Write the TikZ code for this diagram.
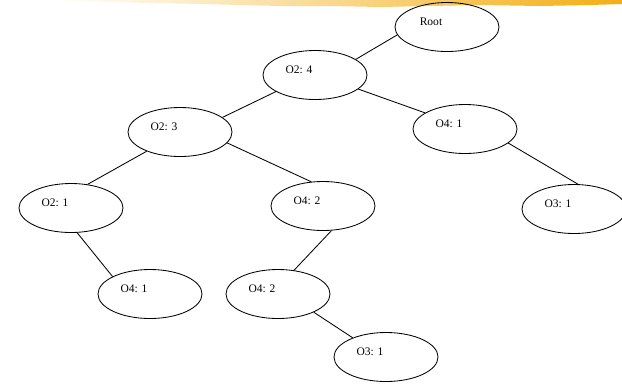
\documentclass[tikz,border=0pt]{standalone}
\usepackage{fontspec}
\setmainfont{Liberation Serif}
\usetikzlibrary{shapes.geometric,shadings}
\definecolor{brushpale}{RGB}{255,236,160}
\definecolor{brushdeep}{RGB}{243,174,22}

\begin{document}
\begin{tikzpicture}[x=0.025cm,y=-0.025cm,line width=0.6pt,
      every node/.style={inner sep=0pt},
      oval/.style={ellipse,draw,minimum width=2.6cm,minimum height=1.225cm,
        label={[xshift=-0.4cm,yshift=0.125cm,font=\fontsize{8.2}{10}\selectfont]center:{#1}}}]
      \useasboundingbox(0,0)rectangle(622,384);
      \shade[left color=white,middle color=brushpale,right color=brushdeep,draw=none]
         (55,0)--(622,0)--(622,4)--(590,5)--(540,6)--(480,5)--(430,6)--(380,7)--(330,6)
         --(280,6)--(240,5)--(200,4)--(150,3)--(110,2)--(60,1)--cycle;
      \node[oval=Root](root)at(447,27){};
      \node[oval={O2: 4}](o24)at(315,75){};
      \node[oval={O2: 3}](o23)at(180,132){};
      \node[oval={O4: 1}](o41)at(465,129){};
      \node[oval={O2: 1}](o21)at(71,208){};
      \node[oval={O4: 2}](o42)at(323,206){};
      \node[oval={O3: 1}](o31)at(574,209){};
      \node[oval={O4: 1}](o41b)at(150,294){};
      \node[oval={O4: 2}](o42b)at(278,294){};
      \node[oval={O3: 1}](o31b)at(386,357){};
      \draw(root.189)--(o24.21) (o24.203)--(o23.19) (o24.342)--(o41.158)
         (o23.210)--(o21.55) (o23.347)--(o42.116) (o41.342)--(o31.81)
         (o21.284)--(o41b.155) (o42.289)--(o42b.56) (o42b.333)--(o31b.150);
    \end{tikzpicture}
\end{document}
